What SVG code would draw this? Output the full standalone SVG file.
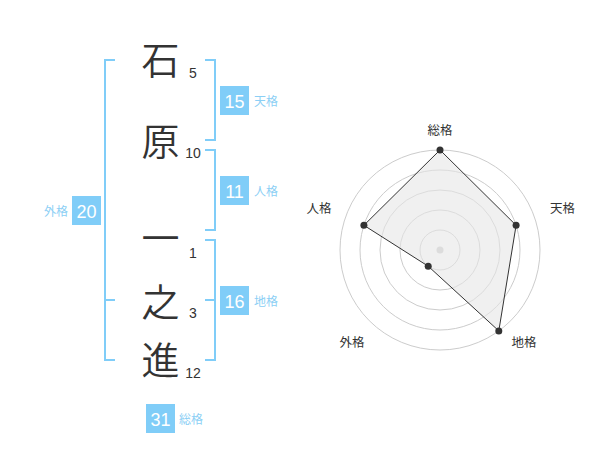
<svg xmlns="http://www.w3.org/2000/svg" width="600" height="470" viewBox="0 0 600 470">
<style>
.kanji{font-family:"Noto Sans CJK JP","Noto Sans CJK SC",sans-serif;font-size:38px;font-weight:350;fill:#333;text-anchor:middle}
.num{font-family:"Liberation Sans",Arial,sans-serif;font-size:14px;fill:#333;text-anchor:middle}
.box{fill:#80cdf8}
.boxnum{font-family:"Liberation Sans",Arial,sans-serif;font-size:18px;fill:#fff;text-anchor:middle}
.lbl{font-family:"Liberation Sans","Noto Sans CJK JP",sans-serif;font-size:12px;fill:#8ccff5}
.br{fill:none;stroke:#80cdf8;stroke-width:2}
.ring{fill:none;stroke:#cccccc;stroke-width:1}
.rl{font-family:"Liberation Sans","Noto Sans CJK JP",sans-serif;font-size:12.5px;fill:#333;text-anchor:middle}
.dot{fill:#333}
</style>
<rect width="600" height="470" fill="#fff"/>
<g id="chars">
<text class="kanji" x="160.5" y="74">石</text>
<text class="kanji" x="160.5" y="155">原</text>
<text class="kanji" x="160.5" y="252">一</text>
<text class="kanji" x="160.5" y="316">之</text>
<text class="kanji" x="160.5" y="374">進</text>
<text class="num" x="193" y="78">5</text>
<text class="num" x="193" y="158">10</text>
<text class="num" x="193" y="258">1</text>
<text class="num" x="193" y="318">3</text>
<text class="num" x="193" y="378">12</text>
</g>
<g id="connectors">
<path class="br" d="M115,60 H105 V360 H115 M105,300 H115"/>
<path class="br" d="M205,60 H215 V140 H205"/>
<path class="br" d="M205,150 H215 V230 H205"/>
<path class="br" d="M205,240 H215 V360 H205 M205,300 H215"/>
</g>
<g id="tenkaku">
<rect class="box" x="220" y="86" width="29" height="29"/>
<text class="boxnum" x="234.5" y="107.5">15</text>
<text class="lbl" x="254" y="106">天格</text>
</g>
<g id="jinkaku">
<rect class="box" x="220" y="176" width="29" height="29"/>
<text class="boxnum" x="234.5" y="197.5">11</text>
<text class="lbl" x="254" y="196">人格</text>
</g>
<g id="chikaku">
<rect class="box" x="220" y="286" width="29" height="29"/>
<text class="boxnum" x="234.5" y="307.5">16</text>
<text class="lbl" x="254" y="306">地格</text>
</g>
<g id="gaikaku">
<rect class="box" x="72" y="196" width="29" height="29"/>
<text class="boxnum" x="86.5" y="217.5">20</text>
<text class="lbl" x="68" y="216" text-anchor="end">外格</text>
</g>
<g id="soukaku">
<rect class="box" x="146" y="404" width="29" height="29"/>
<text class="boxnum" x="160.5" y="425.5">31</text>
<text class="lbl" x="179" y="424">総格</text>
</g>
<g id="radar">
<circle class="ring" cx="440" cy="250" r="20"/>
<circle class="ring" cx="440" cy="250" r="40"/>
<circle class="ring" cx="440" cy="250" r="60"/>
<circle class="ring" cx="440" cy="250" r="80"/>
<circle class="ring" cx="440" cy="250" r="100"/>
<circle cx="440" cy="250" r="3.5" fill="#cccccc"/>
<polygon points="440,150 516.1,225.3 498.8,330.9 428.2,266.2 363.9,225.3" fill="#e6e6e6" fill-opacity="0.6" stroke="#333" stroke-width="1"/>
<circle class="dot" cx="440" cy="150" r="3.5"/>
<circle class="dot" cx="516.1" cy="225.3" r="3.5"/>
<circle class="dot" cx="498.8" cy="330.9" r="3.5"/>
<circle class="dot" cx="428.2" cy="266.2" r="3.5"/>
<circle class="dot" cx="363.9" cy="225.3" r="3.5"/>
<text class="rl" x="440" y="135">総格</text>
<text class="rl" x="562.5" y="213">天格</text>
<text class="rl" x="319" y="213">人格</text>
<text class="rl" x="524" y="347">地格</text>
<text class="rl" x="352" y="347">外格</text>
</g>
</svg>
